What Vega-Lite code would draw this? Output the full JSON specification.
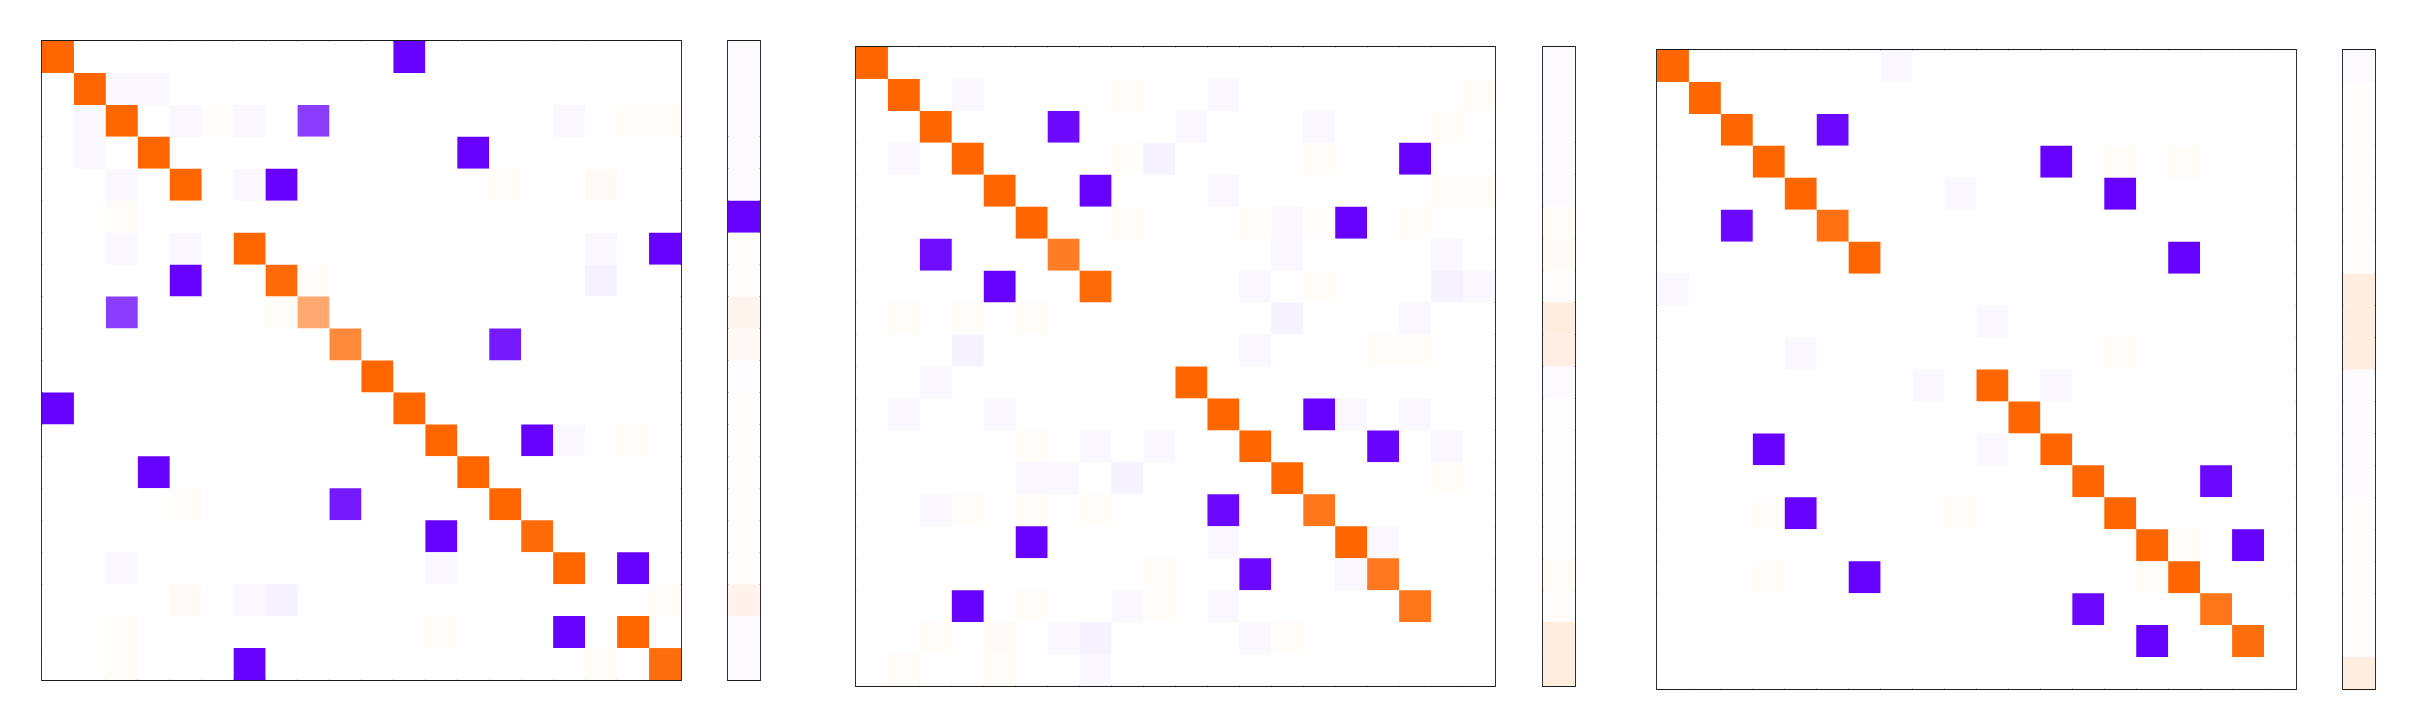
{
"$schema":"https://vega.github.io/schema/vega-lite/v6.json",
"background":"white",
"padding":{"left":41,"top":40,"right":0,"bottom":0},
"config":{"view":{"stroke":"#1a1a1a","strokeWidth":1.8},"concat":{"spacing":0}},
"datasets":{
"m1":[
{"r":0,"c":0,"v":1},{"r":0,"c":1,"v":0},{"r":0,"c":2,"v":0},{"r":0,"c":3,"v":0},{"r":0,"c":4,"v":0},{"r":0,"c":5,"v":0},{"r":0,"c":6,"v":0},{"r":0,"c":7,"v":0},{"r":0,"c":8,"v":0},{"r":0,"c":9,"v":0},{"r":0,"c":10,"v":0},{"r":0,"c":11,"v":-1},{"r":0,"c":12,"v":0},{"r":0,"c":13,"v":0},{"r":0,"c":14,"v":0},{"r":0,"c":15,"v":0},{"r":0,"c":16,"v":0},{"r":0,"c":17,"v":0},{"r":0,"c":18,"v":0},{"r":0,"c":19,"v":0},
{"r":1,"c":0,"v":0},{"r":1,"c":1,"v":1},{"r":1,"c":2,"v":-0.03},{"r":1,"c":3,"v":-0.03},{"r":1,"c":4,"v":0},{"r":1,"c":5,"v":0},{"r":1,"c":6,"v":0},{"r":1,"c":7,"v":0},{"r":1,"c":8,"v":0},{"r":1,"c":9,"v":0},{"r":1,"c":10,"v":0},{"r":1,"c":11,"v":0},{"r":1,"c":12,"v":0},{"r":1,"c":13,"v":0},{"r":1,"c":14,"v":0},{"r":1,"c":15,"v":0},{"r":1,"c":16,"v":0},{"r":1,"c":17,"v":0},{"r":1,"c":18,"v":0},{"r":1,"c":19,"v":0},
{"r":2,"c":0,"v":0},{"r":2,"c":1,"v":-0.03},{"r":2,"c":2,"v":1},{"r":2,"c":3,"v":0},{"r":2,"c":4,"v":-0.03},{"r":2,"c":5,"v":0.02},{"r":2,"c":6,"v":-0.03},{"r":2,"c":7,"v":0},{"r":2,"c":8,"v":-0.76},{"r":2,"c":9,"v":0},{"r":2,"c":10,"v":0},{"r":2,"c":11,"v":0},{"r":2,"c":12,"v":0},{"r":2,"c":13,"v":0},{"r":2,"c":14,"v":0},{"r":2,"c":15,"v":0},{"r":2,"c":16,"v":-0.03},{"r":2,"c":17,"v":0},{"r":2,"c":18,"v":0.02},{"r":2,"c":19,"v":0.02},
{"r":3,"c":0,"v":0},{"r":3,"c":1,"v":-0.03},{"r":3,"c":2,"v":0},{"r":3,"c":3,"v":1},{"r":3,"c":4,"v":0},{"r":3,"c":5,"v":0},{"r":3,"c":6,"v":0},{"r":3,"c":7,"v":0},{"r":3,"c":8,"v":0},{"r":3,"c":9,"v":0},{"r":3,"c":10,"v":0},{"r":3,"c":11,"v":0},{"r":3,"c":12,"v":0},{"r":3,"c":13,"v":-1},{"r":3,"c":14,"v":0},{"r":3,"c":15,"v":0},{"r":3,"c":16,"v":0},{"r":3,"c":17,"v":0},{"r":3,"c":18,"v":0},{"r":3,"c":19,"v":0},
{"r":4,"c":0,"v":0},{"r":4,"c":1,"v":0},{"r":4,"c":2,"v":-0.03},{"r":4,"c":3,"v":0},{"r":4,"c":4,"v":1},{"r":4,"c":5,"v":0},{"r":4,"c":6,"v":-0.03},{"r":4,"c":7,"v":-1},{"r":4,"c":8,"v":0},{"r":4,"c":9,"v":0},{"r":4,"c":10,"v":0},{"r":4,"c":11,"v":0},{"r":4,"c":12,"v":0},{"r":4,"c":13,"v":0},{"r":4,"c":14,"v":0.02},{"r":4,"c":15,"v":0},{"r":4,"c":16,"v":0},{"r":4,"c":17,"v":0.03},{"r":4,"c":18,"v":0},{"r":4,"c":19,"v":0},
{"r":5,"c":0,"v":0},{"r":5,"c":1,"v":0},{"r":5,"c":2,"v":0.02},{"r":5,"c":3,"v":0},{"r":5,"c":4,"v":0},{"r":5,"c":5,"v":0},{"r":5,"c":6,"v":0},{"r":5,"c":7,"v":0},{"r":5,"c":8,"v":0},{"r":5,"c":9,"v":0},{"r":5,"c":10,"v":0},{"r":5,"c":11,"v":0},{"r":5,"c":12,"v":0},{"r":5,"c":13,"v":0},{"r":5,"c":14,"v":0},{"r":5,"c":15,"v":0},{"r":5,"c":16,"v":0},{"r":5,"c":17,"v":0},{"r":5,"c":18,"v":0},{"r":5,"c":19,"v":0},
{"r":6,"c":0,"v":0},{"r":6,"c":1,"v":0},{"r":6,"c":2,"v":-0.03},{"r":6,"c":3,"v":0},{"r":6,"c":4,"v":-0.03},{"r":6,"c":5,"v":0},{"r":6,"c":6,"v":1},{"r":6,"c":7,"v":0},{"r":6,"c":8,"v":0},{"r":6,"c":9,"v":0},{"r":6,"c":10,"v":0},{"r":6,"c":11,"v":0},{"r":6,"c":12,"v":0},{"r":6,"c":13,"v":0},{"r":6,"c":14,"v":0},{"r":6,"c":15,"v":0},{"r":6,"c":16,"v":0},{"r":6,"c":17,"v":-0.03},{"r":6,"c":18,"v":0},{"r":6,"c":19,"v":-1},
{"r":7,"c":0,"v":0},{"r":7,"c":1,"v":0},{"r":7,"c":2,"v":0},{"r":7,"c":3,"v":0},{"r":7,"c":4,"v":-1},{"r":7,"c":5,"v":0},{"r":7,"c":6,"v":0},{"r":7,"c":7,"v":0.97},{"r":7,"c":8,"v":0.02},{"r":7,"c":9,"v":0},{"r":7,"c":10,"v":0},{"r":7,"c":11,"v":0},{"r":7,"c":12,"v":0},{"r":7,"c":13,"v":0},{"r":7,"c":14,"v":0},{"r":7,"c":15,"v":0},{"r":7,"c":16,"v":0},{"r":7,"c":17,"v":-0.05},{"r":7,"c":18,"v":0},{"r":7,"c":19,"v":0},
{"r":8,"c":0,"v":0},{"r":8,"c":1,"v":0},{"r":8,"c":2,"v":-0.76},{"r":8,"c":3,"v":0},{"r":8,"c":4,"v":0},{"r":8,"c":5,"v":0},{"r":8,"c":6,"v":0},{"r":8,"c":7,"v":0.02},{"r":8,"c":8,"v":0.56},{"r":8,"c":9,"v":0},{"r":8,"c":10,"v":0},{"r":8,"c":11,"v":0},{"r":8,"c":12,"v":0},{"r":8,"c":13,"v":0},{"r":8,"c":14,"v":0},{"r":8,"c":15,"v":0},{"r":8,"c":16,"v":0},{"r":8,"c":17,"v":0},{"r":8,"c":18,"v":0},{"r":8,"c":19,"v":0},
{"r":9,"c":0,"v":0},{"r":9,"c":1,"v":0},{"r":9,"c":2,"v":0},{"r":9,"c":3,"v":0},{"r":9,"c":4,"v":0},{"r":9,"c":5,"v":0},{"r":9,"c":6,"v":0},{"r":9,"c":7,"v":0},{"r":9,"c":8,"v":0},{"r":9,"c":9,"v":0.77},{"r":9,"c":10,"v":0},{"r":9,"c":11,"v":0},{"r":9,"c":12,"v":0},{"r":9,"c":13,"v":0},{"r":9,"c":14,"v":-0.9},{"r":9,"c":15,"v":0},{"r":9,"c":16,"v":0},{"r":9,"c":17,"v":0},{"r":9,"c":18,"v":0},{"r":9,"c":19,"v":0},
{"r":10,"c":0,"v":0},{"r":10,"c":1,"v":0},{"r":10,"c":2,"v":0},{"r":10,"c":3,"v":0},{"r":10,"c":4,"v":0},{"r":10,"c":5,"v":0},{"r":10,"c":6,"v":0},{"r":10,"c":7,"v":0},{"r":10,"c":8,"v":0},{"r":10,"c":9,"v":0},{"r":10,"c":10,"v":1},{"r":10,"c":11,"v":0},{"r":10,"c":12,"v":0},{"r":10,"c":13,"v":0},{"r":10,"c":14,"v":0},{"r":10,"c":15,"v":0},{"r":10,"c":16,"v":0},{"r":10,"c":17,"v":0},{"r":10,"c":18,"v":0},{"r":10,"c":19,"v":0},
{"r":11,"c":0,"v":-1},{"r":11,"c":1,"v":0},{"r":11,"c":2,"v":0},{"r":11,"c":3,"v":0},{"r":11,"c":4,"v":0},{"r":11,"c":5,"v":0},{"r":11,"c":6,"v":0},{"r":11,"c":7,"v":0},{"r":11,"c":8,"v":0},{"r":11,"c":9,"v":0},{"r":11,"c":10,"v":0},{"r":11,"c":11,"v":1},{"r":11,"c":12,"v":0},{"r":11,"c":13,"v":0},{"r":11,"c":14,"v":0},{"r":11,"c":15,"v":0},{"r":11,"c":16,"v":0},{"r":11,"c":17,"v":0},{"r":11,"c":18,"v":0},{"r":11,"c":19,"v":0},
{"r":12,"c":0,"v":0},{"r":12,"c":1,"v":0},{"r":12,"c":2,"v":0},{"r":12,"c":3,"v":0},{"r":12,"c":4,"v":0},{"r":12,"c":5,"v":0},{"r":12,"c":6,"v":0},{"r":12,"c":7,"v":0},{"r":12,"c":8,"v":0},{"r":12,"c":9,"v":0},{"r":12,"c":10,"v":0},{"r":12,"c":11,"v":0},{"r":12,"c":12,"v":1},{"r":12,"c":13,"v":0},{"r":12,"c":14,"v":0},{"r":12,"c":15,"v":-1},{"r":12,"c":16,"v":-0.03},{"r":12,"c":17,"v":0},{"r":12,"c":18,"v":0.02},{"r":12,"c":19,"v":0},
{"r":13,"c":0,"v":0},{"r":13,"c":1,"v":0},{"r":13,"c":2,"v":0},{"r":13,"c":3,"v":-1},{"r":13,"c":4,"v":0},{"r":13,"c":5,"v":0},{"r":13,"c":6,"v":0},{"r":13,"c":7,"v":0},{"r":13,"c":8,"v":0},{"r":13,"c":9,"v":0},{"r":13,"c":10,"v":0},{"r":13,"c":11,"v":0},{"r":13,"c":12,"v":0},{"r":13,"c":13,"v":1},{"r":13,"c":14,"v":0},{"r":13,"c":15,"v":0},{"r":13,"c":16,"v":0},{"r":13,"c":17,"v":0},{"r":13,"c":18,"v":0},{"r":13,"c":19,"v":0},
{"r":14,"c":0,"v":0},{"r":14,"c":1,"v":0},{"r":14,"c":2,"v":0},{"r":14,"c":3,"v":0},{"r":14,"c":4,"v":0.02},{"r":14,"c":5,"v":0},{"r":14,"c":6,"v":0},{"r":14,"c":7,"v":0},{"r":14,"c":8,"v":0},{"r":14,"c":9,"v":-0.9},{"r":14,"c":10,"v":0},{"r":14,"c":11,"v":0},{"r":14,"c":12,"v":0},{"r":14,"c":13,"v":0},{"r":14,"c":14,"v":1},{"r":14,"c":15,"v":0},{"r":14,"c":16,"v":0},{"r":14,"c":17,"v":0},{"r":14,"c":18,"v":0},{"r":14,"c":19,"v":0},
{"r":15,"c":0,"v":0},{"r":15,"c":1,"v":0},{"r":15,"c":2,"v":0},{"r":15,"c":3,"v":0},{"r":15,"c":4,"v":0},{"r":15,"c":5,"v":0},{"r":15,"c":6,"v":0},{"r":15,"c":7,"v":0},{"r":15,"c":8,"v":0},{"r":15,"c":9,"v":0},{"r":15,"c":10,"v":0},{"r":15,"c":11,"v":0},{"r":15,"c":12,"v":-1},{"r":15,"c":13,"v":0},{"r":15,"c":14,"v":0},{"r":15,"c":15,"v":0.97},{"r":15,"c":16,"v":0},{"r":15,"c":17,"v":0},{"r":15,"c":18,"v":0},{"r":15,"c":19,"v":0},
{"r":16,"c":0,"v":0},{"r":16,"c":1,"v":0},{"r":16,"c":2,"v":-0.03},{"r":16,"c":3,"v":0},{"r":16,"c":4,"v":0},{"r":16,"c":5,"v":0},{"r":16,"c":6,"v":0},{"r":16,"c":7,"v":0},{"r":16,"c":8,"v":0},{"r":16,"c":9,"v":0},{"r":16,"c":10,"v":0},{"r":16,"c":11,"v":0},{"r":16,"c":12,"v":-0.03},{"r":16,"c":13,"v":0},{"r":16,"c":14,"v":0},{"r":16,"c":15,"v":0},{"r":16,"c":16,"v":1},{"r":16,"c":17,"v":0},{"r":16,"c":18,"v":-1},{"r":16,"c":19,"v":0},
{"r":17,"c":0,"v":0},{"r":17,"c":1,"v":0},{"r":17,"c":2,"v":0},{"r":17,"c":3,"v":0},{"r":17,"c":4,"v":0.03},{"r":17,"c":5,"v":0},{"r":17,"c":6,"v":-0.03},{"r":17,"c":7,"v":-0.05},{"r":17,"c":8,"v":0},{"r":17,"c":9,"v":0},{"r":17,"c":10,"v":0},{"r":17,"c":11,"v":0},{"r":17,"c":12,"v":0},{"r":17,"c":13,"v":0},{"r":17,"c":14,"v":0},{"r":17,"c":15,"v":0},{"r":17,"c":16,"v":0},{"r":17,"c":17,"v":0},{"r":17,"c":18,"v":0},{"r":17,"c":19,"v":0.02},
{"r":18,"c":0,"v":0},{"r":18,"c":1,"v":0},{"r":18,"c":2,"v":0.02},{"r":18,"c":3,"v":0},{"r":18,"c":4,"v":0},{"r":18,"c":5,"v":0},{"r":18,"c":6,"v":0},{"r":18,"c":7,"v":0},{"r":18,"c":8,"v":0},{"r":18,"c":9,"v":0},{"r":18,"c":10,"v":0},{"r":18,"c":11,"v":0},{"r":18,"c":12,"v":0.02},{"r":18,"c":13,"v":0},{"r":18,"c":14,"v":0},{"r":18,"c":15,"v":0},{"r":18,"c":16,"v":-1},{"r":18,"c":17,"v":0},{"r":18,"c":18,"v":1},{"r":18,"c":19,"v":0},
{"r":19,"c":0,"v":0},{"r":19,"c":1,"v":0},{"r":19,"c":2,"v":0.02},{"r":19,"c":3,"v":0},{"r":19,"c":4,"v":0},{"r":19,"c":5,"v":0},{"r":19,"c":6,"v":-1},{"r":19,"c":7,"v":0},{"r":19,"c":8,"v":0},{"r":19,"c":9,"v":0},{"r":19,"c":10,"v":0},{"r":19,"c":11,"v":0},{"r":19,"c":12,"v":0},{"r":19,"c":13,"v":0},{"r":19,"c":14,"v":0},{"r":19,"c":15,"v":0},{"r":19,"c":16,"v":0},{"r":19,"c":17,"v":0.02},{"r":19,"c":18,"v":0},{"r":19,"c":19,"v":0.95}
],
"m2":[
{"r":0,"c":0,"v":1},{"r":0,"c":1,"v":0},{"r":0,"c":2,"v":0},{"r":0,"c":3,"v":0},{"r":0,"c":4,"v":0},{"r":0,"c":5,"v":0},{"r":0,"c":6,"v":0},{"r":0,"c":7,"v":0},{"r":0,"c":8,"v":0},{"r":0,"c":9,"v":0},{"r":0,"c":10,"v":0},{"r":0,"c":11,"v":0},{"r":0,"c":12,"v":0},{"r":0,"c":13,"v":0},{"r":0,"c":14,"v":0},{"r":0,"c":15,"v":0},{"r":0,"c":16,"v":0},{"r":0,"c":17,"v":0},{"r":0,"c":18,"v":0},{"r":0,"c":19,"v":0},
{"r":1,"c":0,"v":0},{"r":1,"c":1,"v":1},{"r":1,"c":2,"v":0},{"r":1,"c":3,"v":-0.03},{"r":1,"c":4,"v":0},{"r":1,"c":5,"v":0},{"r":1,"c":6,"v":0},{"r":1,"c":7,"v":0},{"r":1,"c":8,"v":0.02},{"r":1,"c":9,"v":0},{"r":1,"c":10,"v":0},{"r":1,"c":11,"v":-0.03},{"r":1,"c":12,"v":0},{"r":1,"c":13,"v":0},{"r":1,"c":14,"v":0},{"r":1,"c":15,"v":0},{"r":1,"c":16,"v":0},{"r":1,"c":17,"v":0},{"r":1,"c":18,"v":0},{"r":1,"c":19,"v":0.02},
{"r":2,"c":0,"v":0},{"r":2,"c":1,"v":0},{"r":2,"c":2,"v":1},{"r":2,"c":3,"v":0},{"r":2,"c":4,"v":0},{"r":2,"c":5,"v":0},{"r":2,"c":6,"v":-0.96},{"r":2,"c":7,"v":0},{"r":2,"c":8,"v":0},{"r":2,"c":9,"v":0},{"r":2,"c":10,"v":-0.03},{"r":2,"c":11,"v":0},{"r":2,"c":12,"v":0},{"r":2,"c":13,"v":0},{"r":2,"c":14,"v":-0.03},{"r":2,"c":15,"v":0},{"r":2,"c":16,"v":0},{"r":2,"c":17,"v":0},{"r":2,"c":18,"v":0.02},{"r":2,"c":19,"v":0},
{"r":3,"c":0,"v":0},{"r":3,"c":1,"v":-0.03},{"r":3,"c":2,"v":0},{"r":3,"c":3,"v":1},{"r":3,"c":4,"v":0},{"r":3,"c":5,"v":0},{"r":3,"c":6,"v":0},{"r":3,"c":7,"v":0},{"r":3,"c":8,"v":0.02},{"r":3,"c":9,"v":-0.05},{"r":3,"c":10,"v":0},{"r":3,"c":11,"v":0},{"r":3,"c":12,"v":0},{"r":3,"c":13,"v":0},{"r":3,"c":14,"v":0.02},{"r":3,"c":15,"v":0},{"r":3,"c":16,"v":0},{"r":3,"c":17,"v":-1},{"r":3,"c":18,"v":0},{"r":3,"c":19,"v":0},
{"r":4,"c":0,"v":0},{"r":4,"c":1,"v":0},{"r":4,"c":2,"v":0},{"r":4,"c":3,"v":0},{"r":4,"c":4,"v":1},{"r":4,"c":5,"v":0},{"r":4,"c":6,"v":0},{"r":4,"c":7,"v":-1},{"r":4,"c":8,"v":0},{"r":4,"c":9,"v":0},{"r":4,"c":10,"v":0},{"r":4,"c":11,"v":-0.03},{"r":4,"c":12,"v":0},{"r":4,"c":13,"v":0},{"r":4,"c":14,"v":0},{"r":4,"c":15,"v":0},{"r":4,"c":16,"v":0},{"r":4,"c":17,"v":0},{"r":4,"c":18,"v":0.02},{"r":4,"c":19,"v":0.02},
{"r":5,"c":0,"v":0},{"r":5,"c":1,"v":0},{"r":5,"c":2,"v":0},{"r":5,"c":3,"v":0},{"r":5,"c":4,"v":0},{"r":5,"c":5,"v":1},{"r":5,"c":6,"v":0},{"r":5,"c":7,"v":0},{"r":5,"c":8,"v":0.02},{"r":5,"c":9,"v":0},{"r":5,"c":10,"v":0},{"r":5,"c":11,"v":0},{"r":5,"c":12,"v":0.02},{"r":5,"c":13,"v":-0.03},{"r":5,"c":14,"v":0.02},{"r":5,"c":15,"v":-1},{"r":5,"c":16,"v":0},{"r":5,"c":17,"v":0.02},{"r":5,"c":18,"v":0},{"r":5,"c":19,"v":0},
{"r":6,"c":0,"v":0},{"r":6,"c":1,"v":0},{"r":6,"c":2,"v":-0.95},{"r":6,"c":3,"v":0},{"r":6,"c":4,"v":0},{"r":6,"c":5,"v":0},{"r":6,"c":6,"v":0.85},{"r":6,"c":7,"v":0},{"r":6,"c":8,"v":0},{"r":6,"c":9,"v":0},{"r":6,"c":10,"v":0},{"r":6,"c":11,"v":0},{"r":6,"c":12,"v":0},{"r":6,"c":13,"v":-0.03},{"r":6,"c":14,"v":0},{"r":6,"c":15,"v":0},{"r":6,"c":16,"v":0},{"r":6,"c":17,"v":0},{"r":6,"c":18,"v":-0.03},{"r":6,"c":19,"v":0},
{"r":7,"c":0,"v":0},{"r":7,"c":1,"v":0},{"r":7,"c":2,"v":0},{"r":7,"c":3,"v":0},{"r":7,"c":4,"v":-1},{"r":7,"c":5,"v":0},{"r":7,"c":6,"v":0},{"r":7,"c":7,"v":0.97},{"r":7,"c":8,"v":0},{"r":7,"c":9,"v":0},{"r":7,"c":10,"v":0},{"r":7,"c":11,"v":0},{"r":7,"c":12,"v":-0.03},{"r":7,"c":13,"v":0},{"r":7,"c":14,"v":0.02},{"r":7,"c":15,"v":0},{"r":7,"c":16,"v":0},{"r":7,"c":17,"v":0},{"r":7,"c":18,"v":-0.05},{"r":7,"c":19,"v":-0.03},
{"r":8,"c":0,"v":0},{"r":8,"c":1,"v":0.02},{"r":8,"c":2,"v":0},{"r":8,"c":3,"v":0.02},{"r":8,"c":4,"v":0},{"r":8,"c":5,"v":0.02},{"r":8,"c":6,"v":0},{"r":8,"c":7,"v":0},{"r":8,"c":8,"v":0},{"r":8,"c":9,"v":0},{"r":8,"c":10,"v":0},{"r":8,"c":11,"v":0},{"r":8,"c":12,"v":0},{"r":8,"c":13,"v":-0.05},{"r":8,"c":14,"v":0},{"r":8,"c":15,"v":0},{"r":8,"c":16,"v":0},{"r":8,"c":17,"v":-0.03},{"r":8,"c":18,"v":0},{"r":8,"c":19,"v":0},
{"r":9,"c":0,"v":0},{"r":9,"c":1,"v":0},{"r":9,"c":2,"v":0},{"r":9,"c":3,"v":-0.05},{"r":9,"c":4,"v":0},{"r":9,"c":5,"v":0},{"r":9,"c":6,"v":0},{"r":9,"c":7,"v":0},{"r":9,"c":8,"v":0},{"r":9,"c":9,"v":0},{"r":9,"c":10,"v":0},{"r":9,"c":11,"v":0},{"r":9,"c":12,"v":-0.03},{"r":9,"c":13,"v":0},{"r":9,"c":14,"v":0},{"r":9,"c":15,"v":0},{"r":9,"c":16,"v":0.02},{"r":9,"c":17,"v":0.02},{"r":9,"c":18,"v":0},{"r":9,"c":19,"v":0},
{"r":10,"c":0,"v":0},{"r":10,"c":1,"v":0},{"r":10,"c":2,"v":-0.03},{"r":10,"c":3,"v":0},{"r":10,"c":4,"v":0},{"r":10,"c":5,"v":0},{"r":10,"c":6,"v":0},{"r":10,"c":7,"v":0},{"r":10,"c":8,"v":0},{"r":10,"c":9,"v":0},{"r":10,"c":10,"v":1},{"r":10,"c":11,"v":0},{"r":10,"c":12,"v":0},{"r":10,"c":13,"v":0},{"r":10,"c":14,"v":0},{"r":10,"c":15,"v":0},{"r":10,"c":16,"v":0},{"r":10,"c":17,"v":0},{"r":10,"c":18,"v":0},{"r":10,"c":19,"v":0},
{"r":11,"c":0,"v":0},{"r":11,"c":1,"v":-0.03},{"r":11,"c":2,"v":0},{"r":11,"c":3,"v":0},{"r":11,"c":4,"v":-0.03},{"r":11,"c":5,"v":0},{"r":11,"c":6,"v":0},{"r":11,"c":7,"v":0},{"r":11,"c":8,"v":0},{"r":11,"c":9,"v":0},{"r":11,"c":10,"v":0},{"r":11,"c":11,"v":1},{"r":11,"c":12,"v":0},{"r":11,"c":13,"v":0},{"r":11,"c":14,"v":-1},{"r":11,"c":15,"v":-0.03},{"r":11,"c":16,"v":0},{"r":11,"c":17,"v":-0.03},{"r":11,"c":18,"v":0},{"r":11,"c":19,"v":0},
{"r":12,"c":0,"v":0},{"r":12,"c":1,"v":0},{"r":12,"c":2,"v":0},{"r":12,"c":3,"v":0},{"r":12,"c":4,"v":0},{"r":12,"c":5,"v":0.02},{"r":12,"c":6,"v":0},{"r":12,"c":7,"v":-0.03},{"r":12,"c":8,"v":0},{"r":12,"c":9,"v":-0.03},{"r":12,"c":10,"v":0},{"r":12,"c":11,"v":0},{"r":12,"c":12,"v":1},{"r":12,"c":13,"v":0},{"r":12,"c":14,"v":0},{"r":12,"c":15,"v":0},{"r":12,"c":16,"v":-0.98},{"r":12,"c":17,"v":0},{"r":12,"c":18,"v":-0.03},{"r":12,"c":19,"v":0},
{"r":13,"c":0,"v":0},{"r":13,"c":1,"v":0},{"r":13,"c":2,"v":0},{"r":13,"c":3,"v":0},{"r":13,"c":4,"v":0},{"r":13,"c":5,"v":-0.03},{"r":13,"c":6,"v":-0.03},{"r":13,"c":7,"v":0},{"r":13,"c":8,"v":-0.05},{"r":13,"c":9,"v":0},{"r":13,"c":10,"v":0},{"r":13,"c":11,"v":0},{"r":13,"c":12,"v":0},{"r":13,"c":13,"v":1},{"r":13,"c":14,"v":0},{"r":13,"c":15,"v":0},{"r":13,"c":16,"v":0},{"r":13,"c":17,"v":0},{"r":13,"c":18,"v":0.02},{"r":13,"c":19,"v":0},
{"r":14,"c":0,"v":0},{"r":14,"c":1,"v":0},{"r":14,"c":2,"v":-0.03},{"r":14,"c":3,"v":0.02},{"r":14,"c":4,"v":0},{"r":14,"c":5,"v":0.02},{"r":14,"c":6,"v":0},{"r":14,"c":7,"v":0.02},{"r":14,"c":8,"v":0},{"r":14,"c":9,"v":0},{"r":14,"c":10,"v":0},{"r":14,"c":11,"v":-0.97},{"r":14,"c":12,"v":0},{"r":14,"c":13,"v":0},{"r":14,"c":14,"v":0.9},{"r":14,"c":15,"v":0},{"r":14,"c":16,"v":0},{"r":14,"c":17,"v":0},{"r":14,"c":18,"v":0},{"r":14,"c":19,"v":0},
{"r":15,"c":0,"v":0},{"r":15,"c":1,"v":0},{"r":15,"c":2,"v":0},{"r":15,"c":3,"v":0},{"r":15,"c":4,"v":0},{"r":15,"c":5,"v":-1},{"r":15,"c":6,"v":0},{"r":15,"c":7,"v":0},{"r":15,"c":8,"v":0},{"r":15,"c":9,"v":0},{"r":15,"c":10,"v":0},{"r":15,"c":11,"v":-0.03},{"r":15,"c":12,"v":0},{"r":15,"c":13,"v":0},{"r":15,"c":14,"v":0},{"r":15,"c":15,"v":1},{"r":15,"c":16,"v":-0.03},{"r":15,"c":17,"v":0},{"r":15,"c":18,"v":0},{"r":15,"c":19,"v":0},
{"r":16,"c":0,"v":0},{"r":16,"c":1,"v":0},{"r":16,"c":2,"v":0},{"r":16,"c":3,"v":0},{"r":16,"c":4,"v":0},{"r":16,"c":5,"v":0},{"r":16,"c":6,"v":0},{"r":16,"c":7,"v":0},{"r":16,"c":8,"v":0},{"r":16,"c":9,"v":0.02},{"r":16,"c":10,"v":0},{"r":16,"c":11,"v":0},{"r":16,"c":12,"v":-0.97},{"r":16,"c":13,"v":0},{"r":16,"c":14,"v":0},{"r":16,"c":15,"v":-0.03},{"r":16,"c":16,"v":0.88},{"r":16,"c":17,"v":0},{"r":16,"c":18,"v":0},{"r":16,"c":19,"v":0},
{"r":17,"c":0,"v":0},{"r":17,"c":1,"v":0},{"r":17,"c":2,"v":0},{"r":17,"c":3,"v":-1},{"r":17,"c":4,"v":0},{"r":17,"c":5,"v":0.02},{"r":17,"c":6,"v":0},{"r":17,"c":7,"v":0},{"r":17,"c":8,"v":-0.03},{"r":17,"c":9,"v":0.02},{"r":17,"c":10,"v":0},{"r":17,"c":11,"v":-0.03},{"r":17,"c":12,"v":0},{"r":17,"c":13,"v":0},{"r":17,"c":14,"v":0},{"r":17,"c":15,"v":0},{"r":17,"c":16,"v":0},{"r":17,"c":17,"v":0.9},{"r":17,"c":18,"v":0},{"r":17,"c":19,"v":0},
{"r":18,"c":0,"v":0},{"r":18,"c":1,"v":0},{"r":18,"c":2,"v":0.02},{"r":18,"c":3,"v":0},{"r":18,"c":4,"v":0.03},{"r":18,"c":5,"v":0},{"r":18,"c":6,"v":-0.03},{"r":18,"c":7,"v":-0.05},{"r":18,"c":8,"v":0},{"r":18,"c":9,"v":0},{"r":18,"c":10,"v":0},{"r":18,"c":11,"v":0},{"r":18,"c":12,"v":-0.03},{"r":18,"c":13,"v":0.02},{"r":18,"c":14,"v":0},{"r":18,"c":15,"v":0},{"r":18,"c":16,"v":0},{"r":18,"c":17,"v":0},{"r":18,"c":18,"v":0},{"r":18,"c":19,"v":0},
{"r":19,"c":0,"v":0},{"r":19,"c":1,"v":0.02},{"r":19,"c":2,"v":0},{"r":19,"c":3,"v":0},{"r":19,"c":4,"v":0.02},{"r":19,"c":5,"v":0},{"r":19,"c":6,"v":0},{"r":19,"c":7,"v":-0.03},{"r":19,"c":8,"v":0},{"r":19,"c":9,"v":0},{"r":19,"c":10,"v":0},{"r":19,"c":11,"v":0},{"r":19,"c":12,"v":0},{"r":19,"c":13,"v":0},{"r":19,"c":14,"v":0},{"r":19,"c":15,"v":0},{"r":19,"c":16,"v":0},{"r":19,"c":17,"v":0},{"r":19,"c":18,"v":0},{"r":19,"c":19,"v":0}
],
"m3":[
{"r":0,"c":0,"v":1},{"r":0,"c":1,"v":0},{"r":0,"c":2,"v":0},{"r":0,"c":3,"v":0},{"r":0,"c":4,"v":0},{"r":0,"c":5,"v":0},{"r":0,"c":6,"v":0},{"r":0,"c":7,"v":-0.03},{"r":0,"c":8,"v":0},{"r":0,"c":9,"v":0},{"r":0,"c":10,"v":0},{"r":0,"c":11,"v":0},{"r":0,"c":12,"v":0},{"r":0,"c":13,"v":0},{"r":0,"c":14,"v":0},{"r":0,"c":15,"v":0},{"r":0,"c":16,"v":0},{"r":0,"c":17,"v":0},{"r":0,"c":18,"v":0},{"r":0,"c":19,"v":0},
{"r":1,"c":0,"v":0},{"r":1,"c":1,"v":1},{"r":1,"c":2,"v":0},{"r":1,"c":3,"v":0},{"r":1,"c":4,"v":0},{"r":1,"c":5,"v":0},{"r":1,"c":6,"v":0},{"r":1,"c":7,"v":0},{"r":1,"c":8,"v":0},{"r":1,"c":9,"v":0},{"r":1,"c":10,"v":0},{"r":1,"c":11,"v":0},{"r":1,"c":12,"v":0},{"r":1,"c":13,"v":0},{"r":1,"c":14,"v":0},{"r":1,"c":15,"v":0},{"r":1,"c":16,"v":0},{"r":1,"c":17,"v":0},{"r":1,"c":18,"v":0},{"r":1,"c":19,"v":0},
{"r":2,"c":0,"v":0},{"r":2,"c":1,"v":0},{"r":2,"c":2,"v":1},{"r":2,"c":3,"v":0},{"r":2,"c":4,"v":0},{"r":2,"c":5,"v":-0.97},{"r":2,"c":6,"v":0},{"r":2,"c":7,"v":0},{"r":2,"c":8,"v":0},{"r":2,"c":9,"v":0},{"r":2,"c":10,"v":0},{"r":2,"c":11,"v":0},{"r":2,"c":12,"v":0},{"r":2,"c":13,"v":0},{"r":2,"c":14,"v":0},{"r":2,"c":15,"v":0},{"r":2,"c":16,"v":0},{"r":2,"c":17,"v":0},{"r":2,"c":18,"v":0},{"r":2,"c":19,"v":0},
{"r":3,"c":0,"v":0},{"r":3,"c":1,"v":0},{"r":3,"c":2,"v":0},{"r":3,"c":3,"v":1},{"r":3,"c":4,"v":0},{"r":3,"c":5,"v":0},{"r":3,"c":6,"v":0},{"r":3,"c":7,"v":0},{"r":3,"c":8,"v":0},{"r":3,"c":9,"v":0},{"r":3,"c":10,"v":0},{"r":3,"c":11,"v":0},{"r":3,"c":12,"v":-1},{"r":3,"c":13,"v":0},{"r":3,"c":14,"v":0.02},{"r":3,"c":15,"v":0},{"r":3,"c":16,"v":0.02},{"r":3,"c":17,"v":0},{"r":3,"c":18,"v":0},{"r":3,"c":19,"v":0},
{"r":4,"c":0,"v":0},{"r":4,"c":1,"v":0},{"r":4,"c":2,"v":0},{"r":4,"c":3,"v":0},{"r":4,"c":4,"v":1},{"r":4,"c":5,"v":0},{"r":4,"c":6,"v":0},{"r":4,"c":7,"v":0},{"r":4,"c":8,"v":0},{"r":4,"c":9,"v":-0.03},{"r":4,"c":10,"v":0},{"r":4,"c":11,"v":0},{"r":4,"c":12,"v":0},{"r":4,"c":13,"v":0},{"r":4,"c":14,"v":-1},{"r":4,"c":15,"v":0},{"r":4,"c":16,"v":0},{"r":4,"c":17,"v":0},{"r":4,"c":18,"v":0},{"r":4,"c":19,"v":0},
{"r":5,"c":0,"v":0},{"r":5,"c":1,"v":0},{"r":5,"c":2,"v":-0.97},{"r":5,"c":3,"v":0},{"r":5,"c":4,"v":0},{"r":5,"c":5,"v":0.93},{"r":5,"c":6,"v":0},{"r":5,"c":7,"v":0},{"r":5,"c":8,"v":0},{"r":5,"c":9,"v":0},{"r":5,"c":10,"v":0},{"r":5,"c":11,"v":0},{"r":5,"c":12,"v":0},{"r":5,"c":13,"v":0},{"r":5,"c":14,"v":0},{"r":5,"c":15,"v":0},{"r":5,"c":16,"v":0},{"r":5,"c":17,"v":0},{"r":5,"c":18,"v":0},{"r":5,"c":19,"v":0},
{"r":6,"c":0,"v":0},{"r":6,"c":1,"v":0},{"r":6,"c":2,"v":0},{"r":6,"c":3,"v":0},{"r":6,"c":4,"v":0},{"r":6,"c":5,"v":0},{"r":6,"c":6,"v":1},{"r":6,"c":7,"v":0},{"r":6,"c":8,"v":0},{"r":6,"c":9,"v":0},{"r":6,"c":10,"v":0},{"r":6,"c":11,"v":0},{"r":6,"c":12,"v":0},{"r":6,"c":13,"v":0},{"r":6,"c":14,"v":0},{"r":6,"c":15,"v":0},{"r":6,"c":16,"v":-1},{"r":6,"c":17,"v":0},{"r":6,"c":18,"v":0},{"r":6,"c":19,"v":0},
{"r":7,"c":0,"v":-0.03},{"r":7,"c":1,"v":0},{"r":7,"c":2,"v":0},{"r":7,"c":3,"v":0},{"r":7,"c":4,"v":0},{"r":7,"c":5,"v":0},{"r":7,"c":6,"v":0},{"r":7,"c":7,"v":0},{"r":7,"c":8,"v":0},{"r":7,"c":9,"v":0},{"r":7,"c":10,"v":0},{"r":7,"c":11,"v":0},{"r":7,"c":12,"v":0},{"r":7,"c":13,"v":0},{"r":7,"c":14,"v":0},{"r":7,"c":15,"v":0},{"r":7,"c":16,"v":0},{"r":7,"c":17,"v":0},{"r":7,"c":18,"v":0},{"r":7,"c":19,"v":0},
{"r":8,"c":0,"v":0},{"r":8,"c":1,"v":0},{"r":8,"c":2,"v":0},{"r":8,"c":3,"v":0},{"r":8,"c":4,"v":0},{"r":8,"c":5,"v":0},{"r":8,"c":6,"v":0},{"r":8,"c":7,"v":0},{"r":8,"c":8,"v":0},{"r":8,"c":9,"v":0},{"r":8,"c":10,"v":-0.03},{"r":8,"c":11,"v":0},{"r":8,"c":12,"v":0},{"r":8,"c":13,"v":0},{"r":8,"c":14,"v":0},{"r":8,"c":15,"v":0},{"r":8,"c":16,"v":0},{"r":8,"c":17,"v":0},{"r":8,"c":18,"v":0},{"r":8,"c":19,"v":0},
{"r":9,"c":0,"v":0},{"r":9,"c":1,"v":0},{"r":9,"c":2,"v":0},{"r":9,"c":3,"v":0},{"r":9,"c":4,"v":-0.03},{"r":9,"c":5,"v":0},{"r":9,"c":6,"v":0},{"r":9,"c":7,"v":0},{"r":9,"c":8,"v":0},{"r":9,"c":9,"v":0},{"r":9,"c":10,"v":0},{"r":9,"c":11,"v":0},{"r":9,"c":12,"v":0},{"r":9,"c":13,"v":0},{"r":9,"c":14,"v":0.02},{"r":9,"c":15,"v":0},{"r":9,"c":16,"v":0},{"r":9,"c":17,"v":0},{"r":9,"c":18,"v":0},{"r":9,"c":19,"v":0},
{"r":10,"c":0,"v":0},{"r":10,"c":1,"v":0},{"r":10,"c":2,"v":0},{"r":10,"c":3,"v":0},{"r":10,"c":4,"v":0},{"r":10,"c":5,"v":0},{"r":10,"c":6,"v":0},{"r":10,"c":7,"v":0},{"r":10,"c":8,"v":-0.03},{"r":10,"c":9,"v":0},{"r":10,"c":10,"v":1},{"r":10,"c":11,"v":0},{"r":10,"c":12,"v":-0.03},{"r":10,"c":13,"v":0},{"r":10,"c":14,"v":0},{"r":10,"c":15,"v":0},{"r":10,"c":16,"v":0},{"r":10,"c":17,"v":0},{"r":10,"c":18,"v":0},{"r":10,"c":19,"v":0},
{"r":11,"c":0,"v":0},{"r":11,"c":1,"v":0},{"r":11,"c":2,"v":0},{"r":11,"c":3,"v":0},{"r":11,"c":4,"v":0},{"r":11,"c":5,"v":0},{"r":11,"c":6,"v":0},{"r":11,"c":7,"v":0},{"r":11,"c":8,"v":0},{"r":11,"c":9,"v":0},{"r":11,"c":10,"v":0},{"r":11,"c":11,"v":1},{"r":11,"c":12,"v":0},{"r":11,"c":13,"v":0},{"r":11,"c":14,"v":0},{"r":11,"c":15,"v":0},{"r":11,"c":16,"v":0},{"r":11,"c":17,"v":0},{"r":11,"c":18,"v":0},{"r":11,"c":19,"v":0},
{"r":12,"c":0,"v":0},{"r":12,"c":1,"v":0},{"r":12,"c":2,"v":0},{"r":12,"c":3,"v":-1},{"r":12,"c":4,"v":0},{"r":12,"c":5,"v":0},{"r":12,"c":6,"v":0},{"r":12,"c":7,"v":0},{"r":12,"c":8,"v":0},{"r":12,"c":9,"v":0},{"r":12,"c":10,"v":-0.03},{"r":12,"c":11,"v":0},{"r":12,"c":12,"v":1},{"r":12,"c":13,"v":0},{"r":12,"c":14,"v":0},{"r":12,"c":15,"v":0},{"r":12,"c":16,"v":0},{"r":12,"c":17,"v":0},{"r":12,"c":18,"v":0},{"r":12,"c":19,"v":0},
{"r":13,"c":0,"v":0},{"r":13,"c":1,"v":0},{"r":13,"c":2,"v":0},{"r":13,"c":3,"v":0},{"r":13,"c":4,"v":0},{"r":13,"c":5,"v":0},{"r":13,"c":6,"v":0},{"r":13,"c":7,"v":0},{"r":13,"c":8,"v":0},{"r":13,"c":9,"v":0},{"r":13,"c":10,"v":0},{"r":13,"c":11,"v":0},{"r":13,"c":12,"v":0},{"r":13,"c":13,"v":1},{"r":13,"c":14,"v":0},{"r":13,"c":15,"v":0},{"r":13,"c":16,"v":0},{"r":13,"c":17,"v":-0.97},{"r":13,"c":18,"v":0},{"r":13,"c":19,"v":0},
{"r":14,"c":0,"v":0},{"r":14,"c":1,"v":0},{"r":14,"c":2,"v":0},{"r":14,"c":3,"v":0.02},{"r":14,"c":4,"v":-1},{"r":14,"c":5,"v":0},{"r":14,"c":6,"v":0},{"r":14,"c":7,"v":0},{"r":14,"c":8,"v":0},{"r":14,"c":9,"v":0.02},{"r":14,"c":10,"v":0},{"r":14,"c":11,"v":0},{"r":14,"c":12,"v":0},{"r":14,"c":13,"v":0},{"r":14,"c":14,"v":1},{"r":14,"c":15,"v":0},{"r":14,"c":16,"v":0},{"r":14,"c":17,"v":0},{"r":14,"c":18,"v":0},{"r":14,"c":19,"v":0},
{"r":15,"c":0,"v":0},{"r":15,"c":1,"v":0},{"r":15,"c":2,"v":0},{"r":15,"c":3,"v":0},{"r":15,"c":4,"v":0},{"r":15,"c":5,"v":0},{"r":15,"c":6,"v":0},{"r":15,"c":7,"v":0},{"r":15,"c":8,"v":0},{"r":15,"c":9,"v":0},{"r":15,"c":10,"v":0},{"r":15,"c":11,"v":0},{"r":15,"c":12,"v":0},{"r":15,"c":13,"v":0},{"r":15,"c":14,"v":0},{"r":15,"c":15,"v":1},{"r":15,"c":16,"v":0.02},{"r":15,"c":17,"v":0},{"r":15,"c":18,"v":-1},{"r":15,"c":19,"v":0},
{"r":16,"c":0,"v":0},{"r":16,"c":1,"v":0},{"r":16,"c":2,"v":0},{"r":16,"c":3,"v":0.02},{"r":16,"c":4,"v":0},{"r":16,"c":5,"v":0},{"r":16,"c":6,"v":-1},{"r":16,"c":7,"v":0},{"r":16,"c":8,"v":0},{"r":16,"c":9,"v":0},{"r":16,"c":10,"v":0},{"r":16,"c":11,"v":0},{"r":16,"c":12,"v":0},{"r":16,"c":13,"v":0},{"r":16,"c":14,"v":0},{"r":16,"c":15,"v":0.02},{"r":16,"c":16,"v":1},{"r":16,"c":17,"v":0},{"r":16,"c":18,"v":0},{"r":16,"c":19,"v":0},
{"r":17,"c":0,"v":0},{"r":17,"c":1,"v":0},{"r":17,"c":2,"v":0},{"r":17,"c":3,"v":0},{"r":17,"c":4,"v":0},{"r":17,"c":5,"v":0},{"r":17,"c":6,"v":0},{"r":17,"c":7,"v":0},{"r":17,"c":8,"v":0},{"r":17,"c":9,"v":0},{"r":17,"c":10,"v":0},{"r":17,"c":11,"v":0},{"r":17,"c":12,"v":0},{"r":17,"c":13,"v":-0.97},{"r":17,"c":14,"v":0},{"r":17,"c":15,"v":0},{"r":17,"c":16,"v":0},{"r":17,"c":17,"v":0.9},{"r":17,"c":18,"v":0},{"r":17,"c":19,"v":0},
{"r":18,"c":0,"v":0},{"r":18,"c":1,"v":0},{"r":18,"c":2,"v":0},{"r":18,"c":3,"v":0},{"r":18,"c":4,"v":0},{"r":18,"c":5,"v":0},{"r":18,"c":6,"v":0},{"r":18,"c":7,"v":0},{"r":18,"c":8,"v":0},{"r":18,"c":9,"v":0},{"r":18,"c":10,"v":0},{"r":18,"c":11,"v":0},{"r":18,"c":12,"v":0},{"r":18,"c":13,"v":0},{"r":18,"c":14,"v":0},{"r":18,"c":15,"v":-1},{"r":18,"c":16,"v":0},{"r":18,"c":17,"v":0},{"r":18,"c":18,"v":0.95},{"r":18,"c":19,"v":0},
{"r":19,"c":0,"v":0},{"r":19,"c":1,"v":0},{"r":19,"c":2,"v":0},{"r":19,"c":3,"v":0},{"r":19,"c":4,"v":0},{"r":19,"c":5,"v":0},{"r":19,"c":6,"v":0},{"r":19,"c":7,"v":0},{"r":19,"c":8,"v":0},{"r":19,"c":9,"v":0},{"r":19,"c":10,"v":0},{"r":19,"c":11,"v":0},{"r":19,"c":12,"v":0},{"r":19,"c":13,"v":0},{"r":19,"c":14,"v":0},{"r":19,"c":15,"v":0},{"r":19,"c":16,"v":0},{"r":19,"c":17,"v":0},{"r":19,"c":18,"v":0},{"r":19,"c":19,"v":0}
],
"b1":[
{"r":0,"c":0,"v":-0.02},{"r":1,"c":0,"v":-0.02},{"r":2,"c":0,"v":-0.02},{"r":3,"c":0,"v":-0.02},{"r":4,"c":0,"v":-0.02},{"r":5,"c":0,"v":-1},{"r":6,"c":0,"v":0.01},{"r":7,"c":0,"v":0.01},{"r":8,"c":0,"v":0.07},{"r":9,"c":0,"v":0.04},{"r":10,"c":0,"v":-0.01},{"r":11,"c":0,"v":0.01},{"r":12,"c":0,"v":0.01},{"r":13,"c":0,"v":0.01},{"r":14,"c":0,"v":0.01},{"r":15,"c":0,"v":0.01},{"r":16,"c":0,"v":0.01},{"r":17,"c":0,"v":0.08},{"r":18,"c":0,"v":-0.02},{"r":19,"c":0,"v":-0.02}
],
"b2":[
{"r":0,"c":0,"v":-0.02},{"r":1,"c":0,"v":-0.02},{"r":2,"c":0,"v":-0.02},{"r":3,"c":0,"v":-0.02},{"r":4,"c":0,"v":-0.02},{"r":5,"c":0,"v":0.02},{"r":6,"c":0,"v":0.03},{"r":7,"c":0,"v":0.01},{"r":8,"c":0,"v":0.12},{"r":9,"c":0,"v":0.11},{"r":10,"c":0,"v":-0.02},{"r":11,"c":0,"v":0.005},{"r":12,"c":0,"v":0.005},{"r":13,"c":0,"v":0.005},{"r":14,"c":0,"v":0.005},{"r":15,"c":0,"v":0.005},{"r":16,"c":0,"v":0.02},{"r":17,"c":0,"v":0.015},{"r":18,"c":0,"v":0.12},{"r":19,"c":0,"v":0.12}
],
"b3":[
{"r":0,"c":0,"v":-0.02},{"r":1,"c":0,"v":0.015},{"r":2,"c":0,"v":0.015},{"r":3,"c":0,"v":0.015},{"r":4,"c":0,"v":0.015},{"r":5,"c":0,"v":0.015},{"r":6,"c":0,"v":0.015},{"r":7,"c":0,"v":0.12},{"r":8,"c":0,"v":0.12},{"r":9,"c":0,"v":0.12},{"r":10,"c":0,"v":-0.015},{"r":11,"c":0,"v":-0.015},{"r":12,"c":0,"v":-0.015},{"r":13,"c":0,"v":-0.015},{"r":14,"c":0,"v":0.01},{"r":15,"c":0,"v":0.01},{"r":16,"c":0,"v":0.01},{"r":17,"c":0,"v":0.01},{"r":18,"c":0,"v":0.01},{"r":19,"c":0,"v":0.12}
]
},
"spacing":94,
"hconcat":[
{"spacing":45,"hconcat":[
 {"data":{"name":"m1"},"width":639,"height":639,"mark":{"type":"rect"},
  "encoding":{"x":{"field":"c","type":"ordinal","axis":null,"scale":{"paddingInner":0,"paddingOuter":0}},
   "y":{"field":"r","type":"ordinal","axis":null,"scale":{"paddingInner":0,"paddingOuter":0}},
   "color":{"field":"v","type":"quantitative","legend":null,"scale":{"domain":[-1,0,1],"range":["#6600ff","#ffffff","#ff6600"],"interpolate":"rgb"}}}},
 {"data":{"name":"b1"},"width":32,"height":639,"mark":{"type":"rect"},
  "encoding":{"x":{"field":"c","type":"ordinal","axis":null,"scale":{"paddingInner":0,"paddingOuter":0}},
   "y":{"field":"r","type":"ordinal","axis":null,"scale":{"paddingInner":0,"paddingOuter":0}},
   "color":{"field":"v","type":"quantitative","legend":null,"scale":{"domain":[-1,0,1],"range":["#6600ff","#ffffff","#ff6600"],"interpolate":"rgb"}}}}
]},
{"spacing":80,"hconcat":[
 {"spacing":0,"vconcat":[
  {"data":{"values":[]},"width":1,"height":5,"mark":{"type":"rect"},"view":{"stroke":null}},
  {"spacing":46,"hconcat":[
   {"data":{"name":"m2"},"width":639,"height":639,"mark":{"type":"rect"},
    "encoding":{"x":{"field":"c","type":"ordinal","axis":null,"scale":{"paddingInner":0,"paddingOuter":0}},
     "y":{"field":"r","type":"ordinal","axis":null,"scale":{"paddingInner":0,"paddingOuter":0}},
     "color":{"field":"v","type":"quantitative","legend":null,"scale":{"domain":[-1,0,1],"range":["#6600ff","#ffffff","#ff6600"],"interpolate":"rgb"}}}},
   {"data":{"name":"b2"},"width":32,"height":639,"mark":{"type":"rect"},
    "encoding":{"x":{"field":"c","type":"ordinal","axis":null,"scale":{"paddingInner":0,"paddingOuter":0}},
     "y":{"field":"r","type":"ordinal","axis":null,"scale":{"paddingInner":0,"paddingOuter":0}},
     "color":{"field":"v","type":"quantitative","legend":null,"scale":{"domain":[-1,0,1],"range":["#6600ff","#ffffff","#ff6600"],"interpolate":"rgb"}}}}
  ]}
 ]},
 {"spacing":0,"vconcat":[
  {"data":{"values":[]},"width":1,"height":8,"mark":{"type":"rect"},"view":{"stroke":null}},
  {"spacing":45,"hconcat":[
   {"data":{"name":"m3"},"width":639,"height":639,"mark":{"type":"rect"},
    "encoding":{"x":{"field":"c","type":"ordinal","axis":null,"scale":{"paddingInner":0,"paddingOuter":0}},
     "y":{"field":"r","type":"ordinal","axis":null,"scale":{"paddingInner":0,"paddingOuter":0}},
     "color":{"field":"v","type":"quantitative","legend":null,"scale":{"domain":[-1,0,1],"range":["#6600ff","#ffffff","#ff6600"],"interpolate":"rgb"}}}},
   {"data":{"name":"b3"},"width":32,"height":639,"mark":{"type":"rect"},
    "encoding":{"x":{"field":"c","type":"ordinal","axis":null,"scale":{"paddingInner":0,"paddingOuter":0}},
     "y":{"field":"r","type":"ordinal","axis":null,"scale":{"paddingInner":0,"paddingOuter":0}},
     "color":{"field":"v","type":"quantitative","legend":null,"scale":{"domain":[-1,0,1],"range":["#6600ff","#ffffff","#ff6600"],"interpolate":"rgb"}}}}
  ]}
 ]}
]}
]
}
